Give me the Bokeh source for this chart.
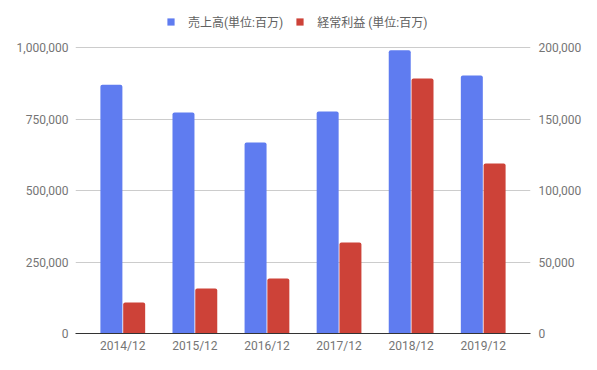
from bokeh.plotting import figure
from bokeh.models import (ColumnDataSource, FactorRange, Range1d, LinearAxis, FixedTicker,
                          NumeralTickFormatter, Legend, LegendItem)
from bokeh.transform import dodge
from bokeh.embed import file_html
from bokeh.resources import INLINE

years = ["2014/12", "2015/12", "2016/12", "2017/12", "2018/12", "2019/12"]
sales = [870000, 773000, 668000, 776000, 990000, 902000]
profit = [21700, 31500, 38500, 63600, 178300, 118900]
left_ticks = [0, 250000, 500000, 750000, 1000000]
right_ticks = [0, 50000, 100000, 150000, 200000]
sales_label = "売上高(単位:百万)"
profit_label = "経常利益 (単位:百万)"

BLUE = "#5F7CF0"
RED = "#CD4238"
TICK_COLOR = "#757575"
FONT = "Roboto"

src = ColumnDataSource(dict(years=years, sales=sales, profit=profit))

W, H = 590, 362
FRAME_TOP, FRAME_BOTTOM, TICK_TOP = 0, 333, 47
# extend the value range above the top tick so the legend can sit inside the frame
scale = (FRAME_BOTTOM - FRAME_TOP) / (FRAME_BOTTOM - TICK_TOP)
left_max = left_ticks[-1] * scale
right_max = right_ticks[-1] * scale

p = figure(width=W, height=H, output_backend="svg", toolbar_location=None,
           x_range=FactorRange(*years, range_padding=0.052),
           y_range=Range1d(0, left_max),
           min_border_left=75, min_border_right=W - 530, min_border_top=FRAME_TOP,
           min_border_bottom=H - FRAME_BOTTOM)
p.extra_y_ranges = {"right": Range1d(0, right_max)}

r1 = p.vbar(x=dodge("years", -0.158, range=p.x_range), top="sales", width=0.305, source=src,
            fill_color=BLUE, line_color=None, border_radius=(2, 2, 0, 0))
r2 = p.vbar(x=dodge("years", 0.158, range=p.x_range), top="profit", width=0.305, source=src,
            fill_color=RED, line_color=None, y_range_name="right", border_radius=(2, 2, 0, 0))

p.outline_line_color = None
p.xgrid.grid_line_color = None
p.ygrid.grid_line_color = "#cccccc"
p.ygrid.ticker = FixedTicker(ticks=left_ticks)

def style(ax, standoff):
    ax.major_tick_line_color = None
    ax.minor_tick_line_color = None
    ax.major_tick_out = 0
    ax.major_tick_in = 0
    ax.minor_tick_out = 0
    ax.major_label_text_font = FONT
    ax.major_label_text_font_size = "12px"
    ax.major_label_text_color = TICK_COLOR
    ax.major_label_standoff = standoff

xa = p.xaxis[0]
style(xa, 5)
xa.axis_line_color = "#333333"
xa.axis_line_width = 1

ya = p.yaxis[0]
ya.ticker = FixedTicker(ticks=left_ticks)
ya.formatter = NumeralTickFormatter(format="0,0")
ya.axis_line_color = None
style(ya, 7)

ra = LinearAxis(y_range_name="right", ticker=FixedTicker(ticks=right_ticks),
                formatter=NumeralTickFormatter(format="0,0"))
ra.axis_line_color = None
style(ra, 8)
p.add_layout(ra, "right")

legend = Legend(items=[LegendItem(label=sales_label, renderers=[r1]),
                       LegendItem(label=profit_label, renderers=[r2])],
                orientation="horizontal", location=(91, 303),
                padding=0, margin=0, spacing=12, label_standoff=13,
                glyph_width=9, glyph_height=9,
                label_text_font="Roboto, 'Noto Sans CJK JP'", label_text_font_size="12px",
                label_text_color="#616161", border_line_alpha=0, background_fill_alpha=0)
p.add_layout(legend, "center")

open("out.html", "w").write(file_html(p, INLINE))
